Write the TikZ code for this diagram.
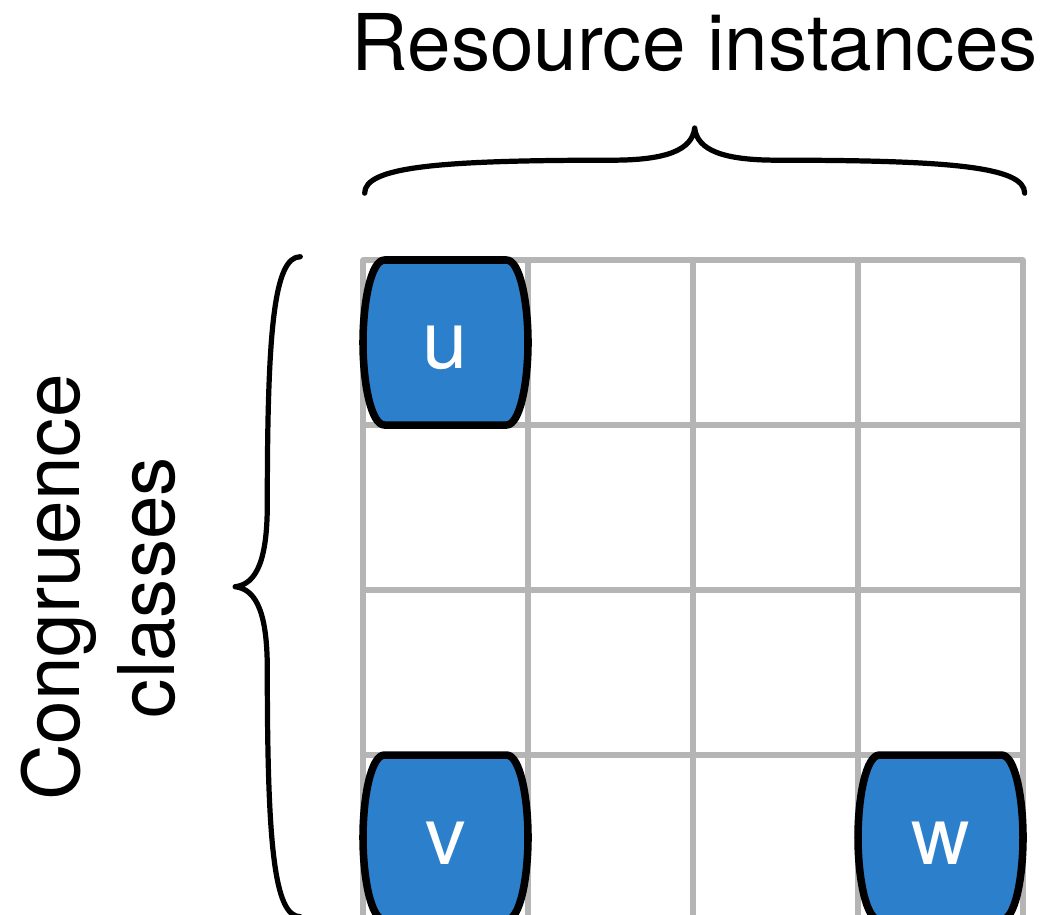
\documentclass[tikz,border=0pt]{standalone}
\usepackage{fontspec}
\setmainfont{TeX Gyre Heros}
\definecolor{SlotBlue}{HTML}{2C7FCB}
\definecolor{GridGray}{HTML}{B5B5B5}
\tikzset{
  pics/curlybrace/.style={code={
    \draw[bracestroke] (0,0) .. controls (0,.32) and (.9,.4) .. (3,.4)
      .. controls (3.65,.4) and (3.97,.52) .. (4,.79)
      .. controls (4.03,.52) and (4.35,.4) .. (5,.4)
      .. controls (7.1,.4) and (8,.32) .. (8,0);
  }},
  pics/slot/.style={code={
    \draw[slotshape] (-.74,1) -- (.74,1) .. controls (.9,1) and (1,.5) .. (1,0)
      .. controls (1,-.5) and (.9,-1) .. (.74,-1) -- (-.74,-1)
      .. controls (-.9,-1) and (-1,-.5) .. (-1,0) .. controls (-1,.5) and (-.9,1) .. cycle;
  }}
}
\begin{document}
\begin{tikzpicture}[line cap=round,line join=round,
  gridline/.style={GridGray,line width=1.8pt},
  slotshape/.style={fill=SlotBlue,draw=black,line width=2.6pt},
  slotlabel/.style={text=white,font=\fontsize{28}{30}\selectfont,inner sep=0pt},
  bracestroke/.style={line width=1.8pt},
  heading/.style={font=\fontsize{27}{32.7}\selectfont,inner sep=0pt}]
  \useasboundingbox (-4.4,-7.939) rectangle (8.303,3.1515);
  \draw[gridline,step=2] (0,-8) grid (8,0);
  \foreach \n/\x/\y in {u/1/-1,v/1/-7,w/7/-7}{
    \pic at (\x,\y) {slot};
    \node[slotlabel] (\n) at (\x,\y-.07) {\n};
  }
  \pic at (0.02,0.81) {curlybrace};
  \pic[rotate=90] at (-0.76,-7.96) {curlybrace};
  \node[heading,anchor=base] (top) at (4.02,2.3) {Resource instances};
  \node[heading,rotate=90,align=center] (side) at (-3.21,-3.97) {Congruence\\classes};
\end{tikzpicture}
\end{document}
